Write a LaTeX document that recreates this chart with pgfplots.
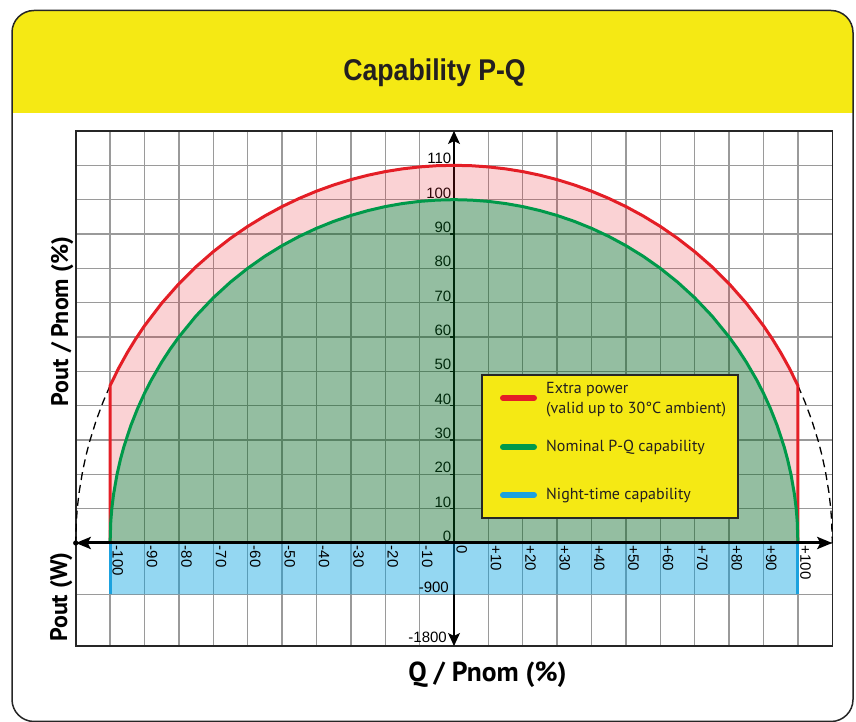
\documentclass[border=0pt]{standalone}
\usepackage{fontspec}
\setmainfont{PT Sans}
\newfontfamily\arialf{Liberation Sans}
\usepackage{pgfplots}
\pgfplotsset{compat=1.18}
\usepackage{pgfplotstable}
\usetikzlibrary{arrows.meta}
\definecolor{hdr}{HTML}{F5E914}
\definecolor{cred}{HTML}{E41E26}
\definecolor{cgreen}{HTML}{00994A}
\definecolor{cblue}{HTML}{1BA1DE}
\definecolor{gridgray}{HTML}{9A9A9A}
\definecolor{greenfill}{RGB}{0,100,30}
\definecolor{pinkfill}{RGB}{230,30,40}
\definecolor{bluefill}{RGB}{0,160,225}
\definecolor{txt}{HTML}{231F20}

\pgfplotstableread{
x y
-100 0
-100 45.83
-97.5 50.93
-95 55.45
-92.5 59.53
-90 63.25
-85 69.82
-80 75.50
-75 80.47
-70 84.85
-65 88.74
-60 92.20
-55 95.26
-50 97.98
-45 100.37
-40 102.47
-35 104.28
-30 105.83
-25 107.12
-20 108.17
-15 108.97
-10 109.54
-5 109.89
0 110
5 109.89
10 109.54
15 108.97
20 108.17
25 107.12
30 105.83
35 104.28
40 102.47
45 100.37
50 97.98
55 95.26
60 92.20
65 88.74
70 84.85
75 80.47
80 75.50
85 69.82
90 63.25
92.5 59.53
95 55.45
97.5 50.93
100 45.83
100 0
}\redtab

\pgfplotstableread{
x y
-100 0
-99.8 6.32
-99.5 9.99
-99 14.11
-98 19.90
-97 24.31
-96 28.00
-94 34.12
-92 39.19
-90 43.59
-88 47.50
-85 52.68
-82.5 56.51
-80 60.00
-75 66.14
-70 71.41
-65 75.99
-60 80.00
-55 83.52
-50 86.60
-45 89.30
-40 91.65
-35 93.67
-30 95.39
-25 96.82
-20 97.98
-15 98.87
-10 99.50
-5 99.87
0 100
5 99.87
10 99.50
15 98.87
20 97.98
25 96.82
30 95.39
35 93.67
40 91.65
45 89.30
50 86.60
55 83.52
60 80.00
65 75.99
70 71.41
75 66.14
80 60.00
82.5 56.51
85 52.68
88 47.50
90 43.59
92 39.19
94 34.12
96 28.00
97 24.31
98 19.90
99 14.11
99.5 9.99
99.8 6.32
100 0
}\greentab

\pgfplotstableread{
x y
-100 0
-100 45.83
-97.5 50.93
-95 55.45
-92.5 59.53
-90 63.25
-85 69.82
-80 75.50
-75 80.47
-70 84.85
-65 88.74
-60 92.20
-55 95.26
-50 97.98
-45 100.37
-40 102.47
-35 104.28
-30 105.83
-25 107.12
-20 108.17
-15 108.97
-10 109.54
-5 109.89
0 110
5 109.89
10 109.54
15 108.97
20 108.17
25 107.12
30 105.83
35 104.28
40 102.47
45 100.37
50 97.98
55 95.26
60 92.20
65 88.74
70 84.85
75 80.47
80 75.50
85 69.82
90 63.25
92.5 59.53
95 55.45
97.5 50.93
100 45.83
100 0
99.8 6.32
99.5 9.99
99 14.11
98 19.90
97 24.31
96 28.00
94 34.12
92 39.19
90 43.59
88 47.50
85 52.68
82.5 56.51
80 60.00
75 66.14
70 71.41
65 75.99
60 80.00
55 83.52
50 86.60
45 89.30
40 91.65
35 93.67
30 95.39
25 96.82
20 97.98
15 98.87
10 99.50
5 99.87
0 100
-5 99.87
-10 99.50
-15 98.87
-20 97.98
-25 96.82
-30 95.39
-35 93.67
-40 91.65
-45 89.30
-50 86.60
-55 83.52
-60 80.00
-65 75.99
-70 71.41
-75 66.14
-80 60.00
-82.5 56.51
-85 52.68
-88 47.50
-90 43.59
-92 39.19
-94 34.12
-96 28.00
-97 24.31
-98 19.90
-99 14.11
-99.5 9.99
-99.8 6.32
-100 0
}\pinktab

\pgfplotstableread{
x y
-100 45.83
-102 41.18
-104 35.83
-106 29.39
-107 25.51
-108 20.88
-109 14.80
-109.5 10.48
-109.8 6.63
-110 0
}\dashL

\pgfplotstableread{
x y
100 45.83
102 41.18
104 35.83
106 29.39
107 25.51
108 20.88
109 14.80
109.5 10.48
109.8 6.63
110 0
}\dashR

\begin{document}
\begin{tikzpicture}[x=1pt,y=1pt]
\useasboundingbox (0,0) rectangle (856,722);
% frame and header
\begin{scope}
\clip[rounded corners=22pt] (12,0.5) rectangle (853,711.5);
\fill[hdr] (0,609) rectangle (856,722);
\end{scope}
\draw[line width=1.5pt, black!85, rounded corners=22pt] (12,0.5) rectangle (853,711.5);
\node[font=\arialf\bfseries\fontsize{30}{36}\selectfont, text=txt, anchor=base, inner sep=0] at (434.5,641.5) {\scalebox{0.89}[1]{Capability P-Q}};

\begin{axis}[
  at={(75.7pt,76pt)}, anchor=south west,
  scale only axis, width=756.6pt, height=515pt,
  xmin=-110, xmax=110, ymin=-30, ymax=120,
  xtick={-110,-100,...,110},
  ytick={-30,-15,0,10,20,30,40,50,60,70,80,90,100,110,120},
  xticklabels={}, yticklabels={},
  major tick length=0pt,
  grid=major,
  grid style={gridgray, line width=1.4pt},
  axis line style={line width=1.6pt, black!85},
  clip=false,
]
% y tick labels and small ticks (under the fills)
\pgfplotsinvokeforeach{0,10,20,30,40,50,60,70,80,90,100,110}{
  \node[font=\arialf\fontsize{15}{18}\selectfont, text=black, anchor=base east, inner sep=0]
    at ([xshift=-2.5pt,yshift=1.5pt]axis cs:0,#1) {#1};
  \draw[line width=1.2pt] ([xshift=-4.5pt]axis cs:0,#1) -- (axis cs:0,#1);
}
% vertical axis
\draw[line width=1.5pt, black, {Stealth[length=13pt,width=12pt,inset=3pt]}-{Stealth[length=13pt,width=12pt,inset=3pt]}]
  (axis cs:0,-30) -- (axis cs:0,120);

% fills
\addplot[draw=none, fill=bluefill, fill opacity=0.42] coordinates {(-100,0) (100,0) (100,-15) (-100,-15) (-100,0)};
\addplot[draw=none, fill=pinkfill, fill opacity=0.2] table {\pinktab};
\addplot[draw=none, fill=greenfill, fill opacity=0.42] table {\greentab};

% curves
\addplot[black, line width=1.3pt, dash pattern=on 8pt off 5pt] table {\dashL};
\addplot[black, line width=1.3pt, dash pattern=on 8pt off 5pt] table {\dashR};
\addplot[cred, line width=3pt] table {\redtab};
\addplot[cgreen, line width=3pt] table {\greentab};
\addplot[cblue, line width=3pt] coordinates {(-100,0) (-100,-15)};
\addplot[cblue, line width=3pt] coordinates {(100,0) (100,-15)};

% horizontal axis
\draw[line width=3pt, black, {Stealth[length=15pt,width=12pt,inset=3pt]}-{Stealth[length=15pt,width=12pt,inset=3pt]}]
  (axis cs:-110,0) -- (axis cs:110,0);
\fill[black] (axis cs:-110,0) circle (2.6pt);

% x tick labels
\pgfplotsinvokeforeach{-100,-90,-80,-70,-60,-50,-40,-30,-20,-10,0,10,20,30,40,50,60,70,80,90,100}{
  \node[font=\arialf\fontsize{15}{18}\selectfont, text=black, rotate=-90, anchor=base west, inner sep=0]
    at ([xshift=2.5pt,yshift=-2.5pt]axis cs:#1,0) {\ifnum#1>0 +#1\else #1\fi};
}
\node[font=\arialf\fontsize{15}{18}\selectfont, anchor=base east, inner sep=0] at ([xshift=-5pt,yshift=2pt]axis cs:0,-15) {-900};
\node[font=\arialf\fontsize{15}{18}\selectfont, anchor=base east, inner sep=0] at ([xshift=-7pt,yshift=3pt]axis cs:0,-30) {-1800};
\end{axis}

% legend
\filldraw[fill=hdr, draw=black!85, line width=1.5pt] (482,204) rectangle (738,347);
\draw[cred, line width=6pt, line cap=round] (503,324) -- (534,324);
\draw[cgreen, line width=6pt, line cap=round] (503,275) -- (534,275);
\draw[cblue, line width=6pt, line cap=round] (503,227) -- (534,227);
\begin{scope}[every node/.style={font=\fontsize{16}{19}\selectfont, text=txt, anchor=base west, inner sep=0}]
\node at (546,328) {Extra power};
\node at (546,308) {(valid up to 30°C ambient)};
\node at (546,270) {Nominal P-Q capability};
\node at (546,222) {Night-time capability};
\end{scope}

% axis labels
\node[font=\bfseries\fontsize{27.5}{32}\selectfont, text=black, anchor=base, inner sep=0] at (487.5,40.5) {Q / Pnom (\%)};
\node[font=\bfseries\fontsize{24}{28}\selectfont, text=black, anchor=base, rotate=90, inner sep=0] at (68,400.5) {Pout / Pnom (\%)};
\node[font=\bfseries\fontsize{24}{28}\selectfont, text=black, anchor=base, rotate=90, inner sep=0] at (67,125) {Pout (W)};
\end{tikzpicture}
\end{document}
